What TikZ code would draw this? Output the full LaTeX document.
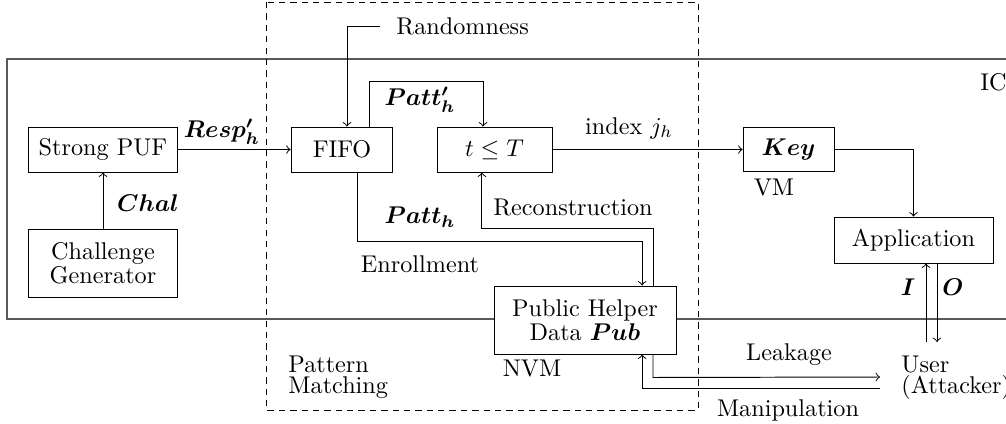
\documentclass[tikz,border=0pt]{standalone}
\usepackage{amsmath}
\begin{document}
\begin{tikzpicture}[x=0.4132pt,y=-0.4132pt,
  box/.style={draw,fill=white,line width=0.4pt,align=center,inner sep=0pt},
  lbl/.style={inner sep=0pt,align=left},
  arr/.style={line width=0.4pt,->},
  icline/.style={draw=black!65,line width=0.9pt},
  pmline/.style={draw,line width=0.4pt,dash pattern=on 2.6pt off 2.1pt}]
\useasboundingbox (0,0) rectangle (1006,423);
% IC boundary and pattern matching region
\draw[icline] (7,59) rectangle (1040,319);
\draw[pmline] (266,2) rectangle (698,410);
\node[lbl,anchor=west] (ic) at (980,82) {IC};
% boxes
\node[box,minimum width=61.2pt,minimum height=18.6pt] (puf) at (103,149.5) {Strong PUF};
\node[box,minimum width=61.2pt,minimum height=28.1pt] (gen) at (103,263) {Challenge\\[-2pt]Generator};
\node[box,minimum width=42.1pt,minimum height=18.6pt] (fifo) at (342,149.5) {FIFO};
\node[box,minimum width=47.5pt,minimum height=18.6pt] (thr) at (494.5,149.5) {$t\leq T$};
\node[box,minimum width=37.6pt,minimum height=18.4pt] (key) at (788.5,149.5) {$\boldsymbol{Key}$};
\node[box,minimum width=65.7pt,minimum height=19pt] (app) at (913.5,240) {Application};
\node[box,minimum width=75.2pt,minimum height=28.1pt] (pub) at (585,320) {Public Helper\\[-2pt]Data $\boldsymbol{Pub}$};
% free labels
\node[lbl,anchor=west,inner xsep=6.6pt] (rand) at (380,26) {Randomness};
\node[lbl] (resp) at (222,132) {$\boldsymbol{Resp'_h}$};
\node[lbl] (chal) at (148,203) {$\boldsymbol{Chal}$};
\node[lbl] (pattp) at (420,100) {$\boldsymbol{Patt'_h}$};
\node[lbl] (patt) at (420,217) {$\boldsymbol{Patt_h}$};
\node[lbl] (recon) at (573,207) {Reconstruction};
\node[lbl] (enroll) at (420,264) {Enrollment};
\node[lbl,anchor=west] (pm) at (288,377) {Pattern\\[-3.4pt]Matching};
\node[lbl] (nvm) at (532,368) {NVM};
\node[lbl] (idx) at (629,128) {index $j_h$};
\node[lbl] (vm) at (774,187) {VM};
\node[lbl] (leak) at (789,355) {Leakage};
\node[lbl] (manip) at (788,410) {Manipulation};
\node[lbl] (ilbl) at (908,287) {$\boldsymbol{I}$};
\node[lbl] (olbl) at (953,287) {$\boldsymbol{O}$};
\node[lbl,anchor=west] (user) at (901,378) {User\\[-3.4pt](Attacker)};
% free ends
\coordinate (leakEnd) at (880,377);
\coordinate (manStart) at (880,388);
\coordinate (uI) at (926,342);
\coordinate (uO) at (937,342);
% connectors
\draw[arr] (gen.north) -- (puf.south);
\draw[arr] (puf.east) -- (fifo.west);
\draw[arr] (rand.west) -| ([xshift=2.07pt]fifo.north);
\draw[arr] ([xshift=11.2pt]fifo.north) -- ++(0,-45) -| ([xshift=-4.75pt]thr.north);
\draw[arr] (thr.east) -- (key.west);
\draw[arr] (key.east) -| (app.north);
\draw[arr] ([xshift=6.6pt]fifo.south) -- ++(0,69) -| ([xshift=23.6pt]pub.north);
\draw[arr] ([xshift=28.1pt]pub.north) -- ++(0,-57) -| ([xshift=-5.2pt]thr.south);
\draw[arr] ([xshift=28.1pt]pub.south) -- ++(0,23) -- (leakEnd);
\draw[arr] (manStart) -| ([xshift=23.6pt]pub.south);
\draw[arr] (uI) -- (uI |- app.south);
\draw[arr] (uO |- app.south) -- (uO);
\end{tikzpicture}
\end{document}
